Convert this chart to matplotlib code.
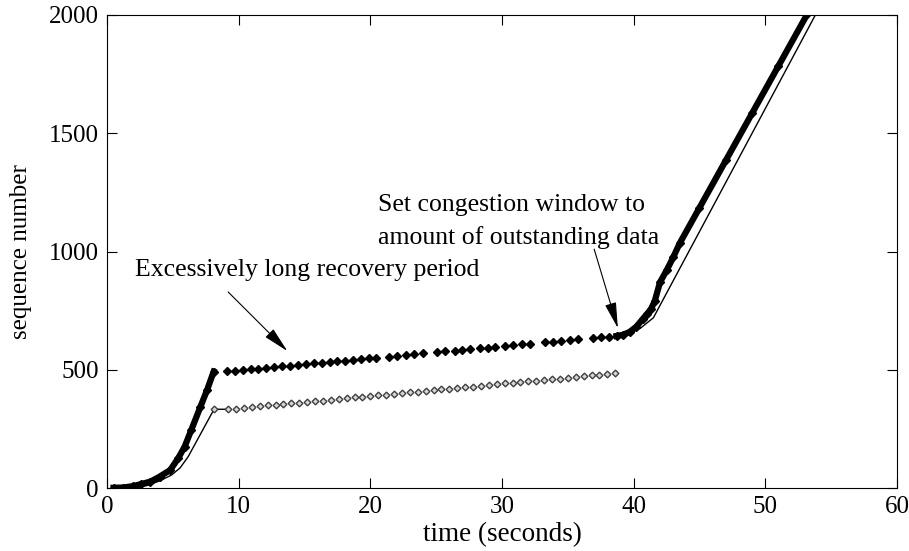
import matplotlib
matplotlib.use('Agg')
import matplotlib.pyplot as plt

font = {'family': 'Liberation Serif',
        'size': 18}
matplotlib.rc('font', **font)

# slow start, thick band of sent segments
ss_time = [0.5, 1.2, 2.0, 2.6, 3.3, 4.0, 4.8, 5.4, 5.9, 6.4, 7.1, 7.6, 8.1]
ss_seq = [1, 2, 8, 17, 27, 48, 76, 125, 175, 245, 344, 414, 492]

# recovery period, filled diamonds (sent in groups)
rec_time = [9.1, 9.7, 10.3, 10.9, 11.5, 12.1, 12.7, 13.3, 13.9, 14.5, 15.1, 15.7, 16.3, 16.9,
            17.5, 18.1, 18.7, 19.3, 19.9, 20.4,
            21.4, 22.0, 22.7, 23.3, 24.0,
            25.1, 25.7, 26.4, 27.0, 27.6, 28.3, 28.9, 29.5, 30.2, 30.8, 31.5, 32.1,
            33.3, 33.9, 34.5, 35.2, 35.8,
            36.9, 37.5, 38.1]
rec_seq = [493, 496, 499, 502, 505, 508, 511, 514, 517, 521, 524, 527, 530, 533,
           536, 539, 542, 545, 548, 551,
           556, 559, 563, 566, 569,
           575, 578, 581, 585, 588, 591, 594, 597, 601, 604, 607, 610,
           616, 619, 622, 626, 629,
           634, 637, 640]

# after recovery, thick band again
rise_time = [38.7, 39.2, 39.7, 40.2, 40.7, 41.0, 41.3, 41.6, 42.0, 42.5, 43.0, 43.5,
             45.0, 47.0, 49.0, 51.0, 53.2, 53.6]
rise_seq = [643, 648, 660, 682, 715, 735, 755, 790, 870, 920, 975, 1035,
            1185, 1385, 1585, 1785, 2005, 2045]

# thin line (acks)
ack_time = [0.5, 2.0, 3.0, 4.0, 4.9, 5.55, 6.16, 8.13, 9.2]
ack_seq = [0, 3, 10, 30, 55, 85, 132, 333, 333]
ack2_time = [39.0, 40.5, 41.5, 53.8, 54.2]
ack2_seq = [645, 675, 720, 2000, 2042]

# open diamonds, lower row
open_time = [8.13, 9.2, 9.8, 10.4, 11.0, 11.6, 12.2, 12.8, 13.4, 14.0, 14.6, 15.2, 15.8, 16.4,
             17.0, 17.6, 18.2, 18.8, 19.4, 20.0, 20.6, 21.2, 21.8, 22.4, 23.0, 23.6,
             24.2, 24.8, 25.4, 26.0, 26.6, 27.2, 27.8, 28.4, 29.0, 29.6, 30.2, 30.8,
             31.4, 32.0, 32.6, 33.2, 33.8, 34.4, 35.0, 35.6, 36.2, 36.8, 37.4, 38.0, 38.6]
open_seq = [333, 333, 336, 339, 342, 345, 349, 352, 355, 358, 361, 364, 367, 370,
            373, 376, 380, 383, 386, 389, 392, 395, 398, 401, 404, 407,
            411, 414, 417, 420, 423, 426, 429, 432, 435, 438, 442, 445,
            448, 451, 454, 457, 460, 463, 466, 469, 473, 476, 479, 482, 485]

x_ticks = [0, 10, 20, 30, 40, 50, 60]
y_ticks = [0, 500, 1000, 1500, 2000]

fig, ax = plt.subplots(figsize=(9.09, 5.51), dpi=100)
fig.subplots_adjust(left=0.1177, right=0.9868, bottom=0.1143, top=0.9728)

# thin lines
ax.plot(ack_time, ack_seq, color='black', lw=1.0, zorder=2)
ax.plot(ack2_time, ack2_seq, color='black', lw=1.0, zorder=2)

# open diamonds
ax.plot(open_time, open_seq, linestyle='none', marker='D', ms=3.4,
        mfc='#d8d8d8', mec='#404040', mew=1.0, zorder=3)

# thick band + filled diamonds
ax.plot(ss_time, ss_seq, color='black', lw=4.5, marker='D', ms=4.5, zorder=4)
ax.plot(rise_time, rise_seq, color='black', lw=4.5, marker='D', ms=4.5, zorder=4)
ax.plot(rec_time, rec_seq, linestyle='none', marker='D', ms=4.4,
        mfc='black', mec='black', zorder=4)

# annotations
arrow = dict(arrowstyle='-|>,head_length=1.0,head_width=0.22', color='black',
             lw=0.8, mutation_scale=16, shrinkA=0, shrinkB=0)
ax.annotate('', xy=(13.7, 579), xytext=(9.2, 829), arrowprops=arrow)
ax.text(2.1, 922, 'Excessively long recovery period', ha='left', va='center', fontsize=18.5)
ax.annotate('', xy=(38.8, 676), xytext=(37.0, 1010), arrowprops=arrow)
ax.text(20.6, 1195, 'Set congestion window to', ha='left', va='center', fontsize=18.5)
ax.text(20.6, 1061, 'amount of outstanding data', ha='left', va='center', fontsize=18.5)

ax.set_xlim(0, 60)
ax.set_ylim(0, 2000)
ax.set_xticks(x_ticks)
ax.set_yticks(y_ticks)
ax.tick_params(direction='in', length=7, width=0.8, top=True, right=True, pad=6, labelsize=18)
for s in ax.spines.values():
    s.set_linewidth(0.8)

ax.set_xlabel('time (seconds)', fontsize=19.5, labelpad=3)
ax.set_ylabel('sequence number', fontsize=18, labelpad=12)

fig.savefig('out.png', dpi=100)
